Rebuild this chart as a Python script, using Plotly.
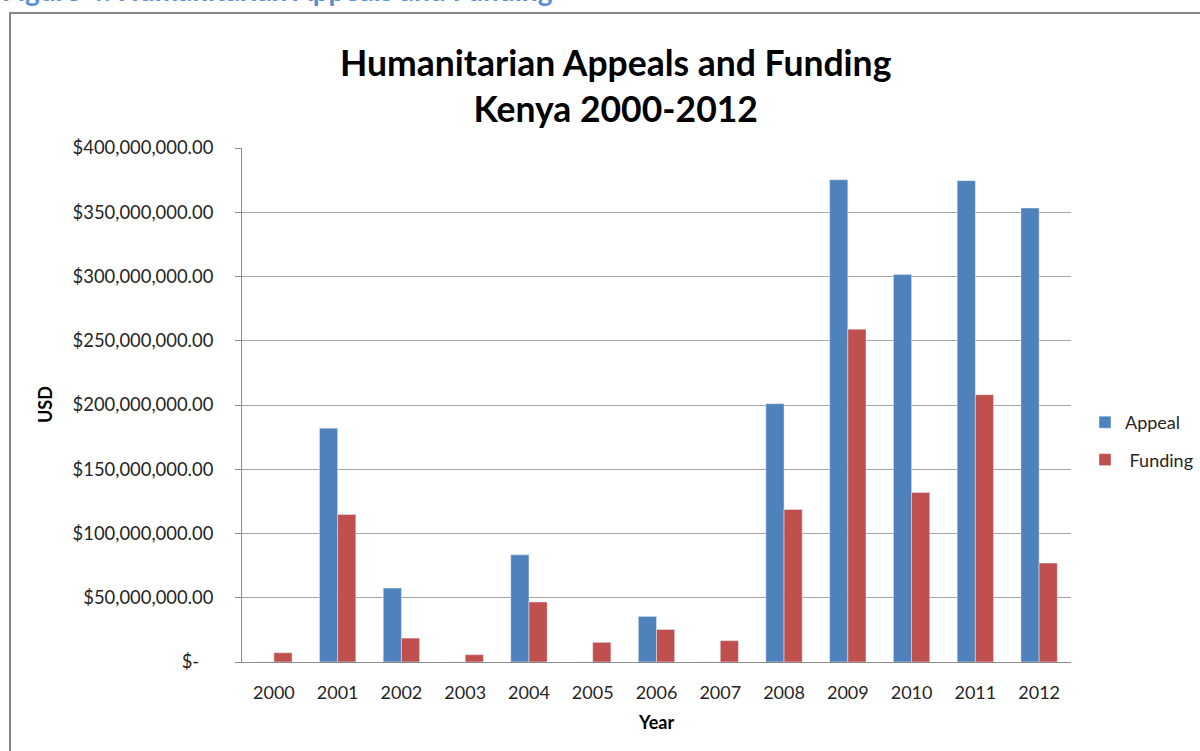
import plotly.graph_objects as go

# Kenya humanitarian appeals vs. funding received, USD
years = ["2000", "2001", "2002", "2003", "2004", "2005", "2006",
         "2007", "2008", "2009", "2010", "2011", "2012"]
appeal = [0, 182_000_000, 57_500_000, 0, 83_400_000, 0, 35_500_000,
          0, 201_000_000, 375_300_000, 301_500_000, 374_600_000, 353_300_000]
funding = [7_200_000, 114_800_000, 18_600_000, 5_700_000, 46_700_000, 15_300_000,
           25_300_000, 16_600_000, 118_700_000, 259_000_000, 132_000_000,
           208_000_000, 77_000_000]

tick_vals = [0, 50_000_000, 100_000_000, 150_000_000, 200_000_000,
             250_000_000, 300_000_000, 350_000_000, 400_000_000]
tick_text = ["$-\u00a0\u00a0\u00a0", "$50,000,000.00", "$100,000,000.00",
             "$150,000,000.00", "$200,000,000.00", "$250,000,000.00",
             "$300,000,000.00", "$350,000,000.00", "$400,000,000.00"]

FONT = "Lato, 'Open Sans', sans-serif"
W, H = 1200, 751
L, R, T, B = 242, 129, 148, 89
PW, PH = W - L - R, H - T - B


def px_x(px):
    return (px - L) / PW


def px_y(py):
    return (H - B - py) / PH


fig = go.Figure()
fig.add_trace(go.Bar(x=years, y=appeal, name="Appeal", marker_color="#4F81BD",
                     legendgroup="a"))
fig.add_trace(go.Bar(x=years, y=funding, name="\u00a0Funding", marker_color="#C0504D",
                     legendgroup="f"))

fig.update_layout(
    width=W, height=H,
    margin=dict(l=L, r=R, t=T, b=B, pad=0, autoexpand=False),
    paper_bgcolor="white", plot_bgcolor="white",
    font=dict(family=FONT, size=18, color="#262626"),
    barmode="group", bargap=0.43, bargroupgap=0,
    showlegend=True,
    legend=dict(x=px_x(1085), y=px_y(404), xanchor="left", yanchor="top",
                font=dict(size=18, color="#262626"), traceorder="grouped",
                tracegroupgap=11, itemwidth=30, bgcolor="rgba(0,0,0,0)"),
    xaxis=dict(type="category", showline=True, linecolor="#8c8c8c", linewidth=1,
               ticks="", showgrid=False, tickfont=dict(size=18),
               ticklabelstandoff=14, automargin=False),
    yaxis=dict(range=[0, 400_000_000], tickvals=tick_vals, ticktext=tick_text,
               showline=True, linecolor="#8c8c8c", linewidth=1,
               ticks="outside", ticklen=6, tickcolor="#8c8c8c",
               showgrid=True, gridcolor="#a6a6a6", gridwidth=1, zeroline=False,
               tickfont=dict(size=18.4), ticklabelstandoff=18, automargin=False),
)

# axis titles
fig.add_annotation(xref="paper", yref="paper", x=px_x(656), y=px_y(722),
                   text="<b>Year</b>", showarrow=False,
                   xanchor="center", yanchor="middle",
                   font=dict(family=FONT, size=18, color="#000"))
fig.add_annotation(xref="paper", yref="paper", x=px_x(45), y=px_y(405),
                   text="<b>USD</b>", showarrow=False, textangle=-90,
                   xanchor="center", yanchor="middle",
                   font=dict(family=FONT, size=18, color="#000"))

# chart frame (only top and left edges fall inside the page)
fig.add_shape(type="rect", xref="paper", yref="paper",
              x0=px_x(10), x1=px_x(1260), y0=px_y(800), y1=px_y(13),
              line=dict(color="#868686", width=2), fillcolor="rgba(0,0,0,0)",
              layer="below")

# chart title
fig.add_annotation(xref="paper", yref="paper", x=px_x(616), y=px_y(85),
                   text="<b>Humanitarian Appeals and Funding<br>Kenya 2000-2012</b>",
                   showarrow=False, xanchor="center", yanchor="middle",
                   font=dict(family=FONT, size=35.5, color="#000"))

# document caption above the frame
fig.add_annotation(xref="paper", yref="paper", x=px_x(0), y=px_y(-10),
                   text="<b>Figure 4: Humanitarian Appeals and Funding</b>",
                   showarrow=False, xanchor="left", yanchor="middle",
                   font=dict(family=FONT, size=28, color="#5B8FD6"))

fig.write_html("out.html")
